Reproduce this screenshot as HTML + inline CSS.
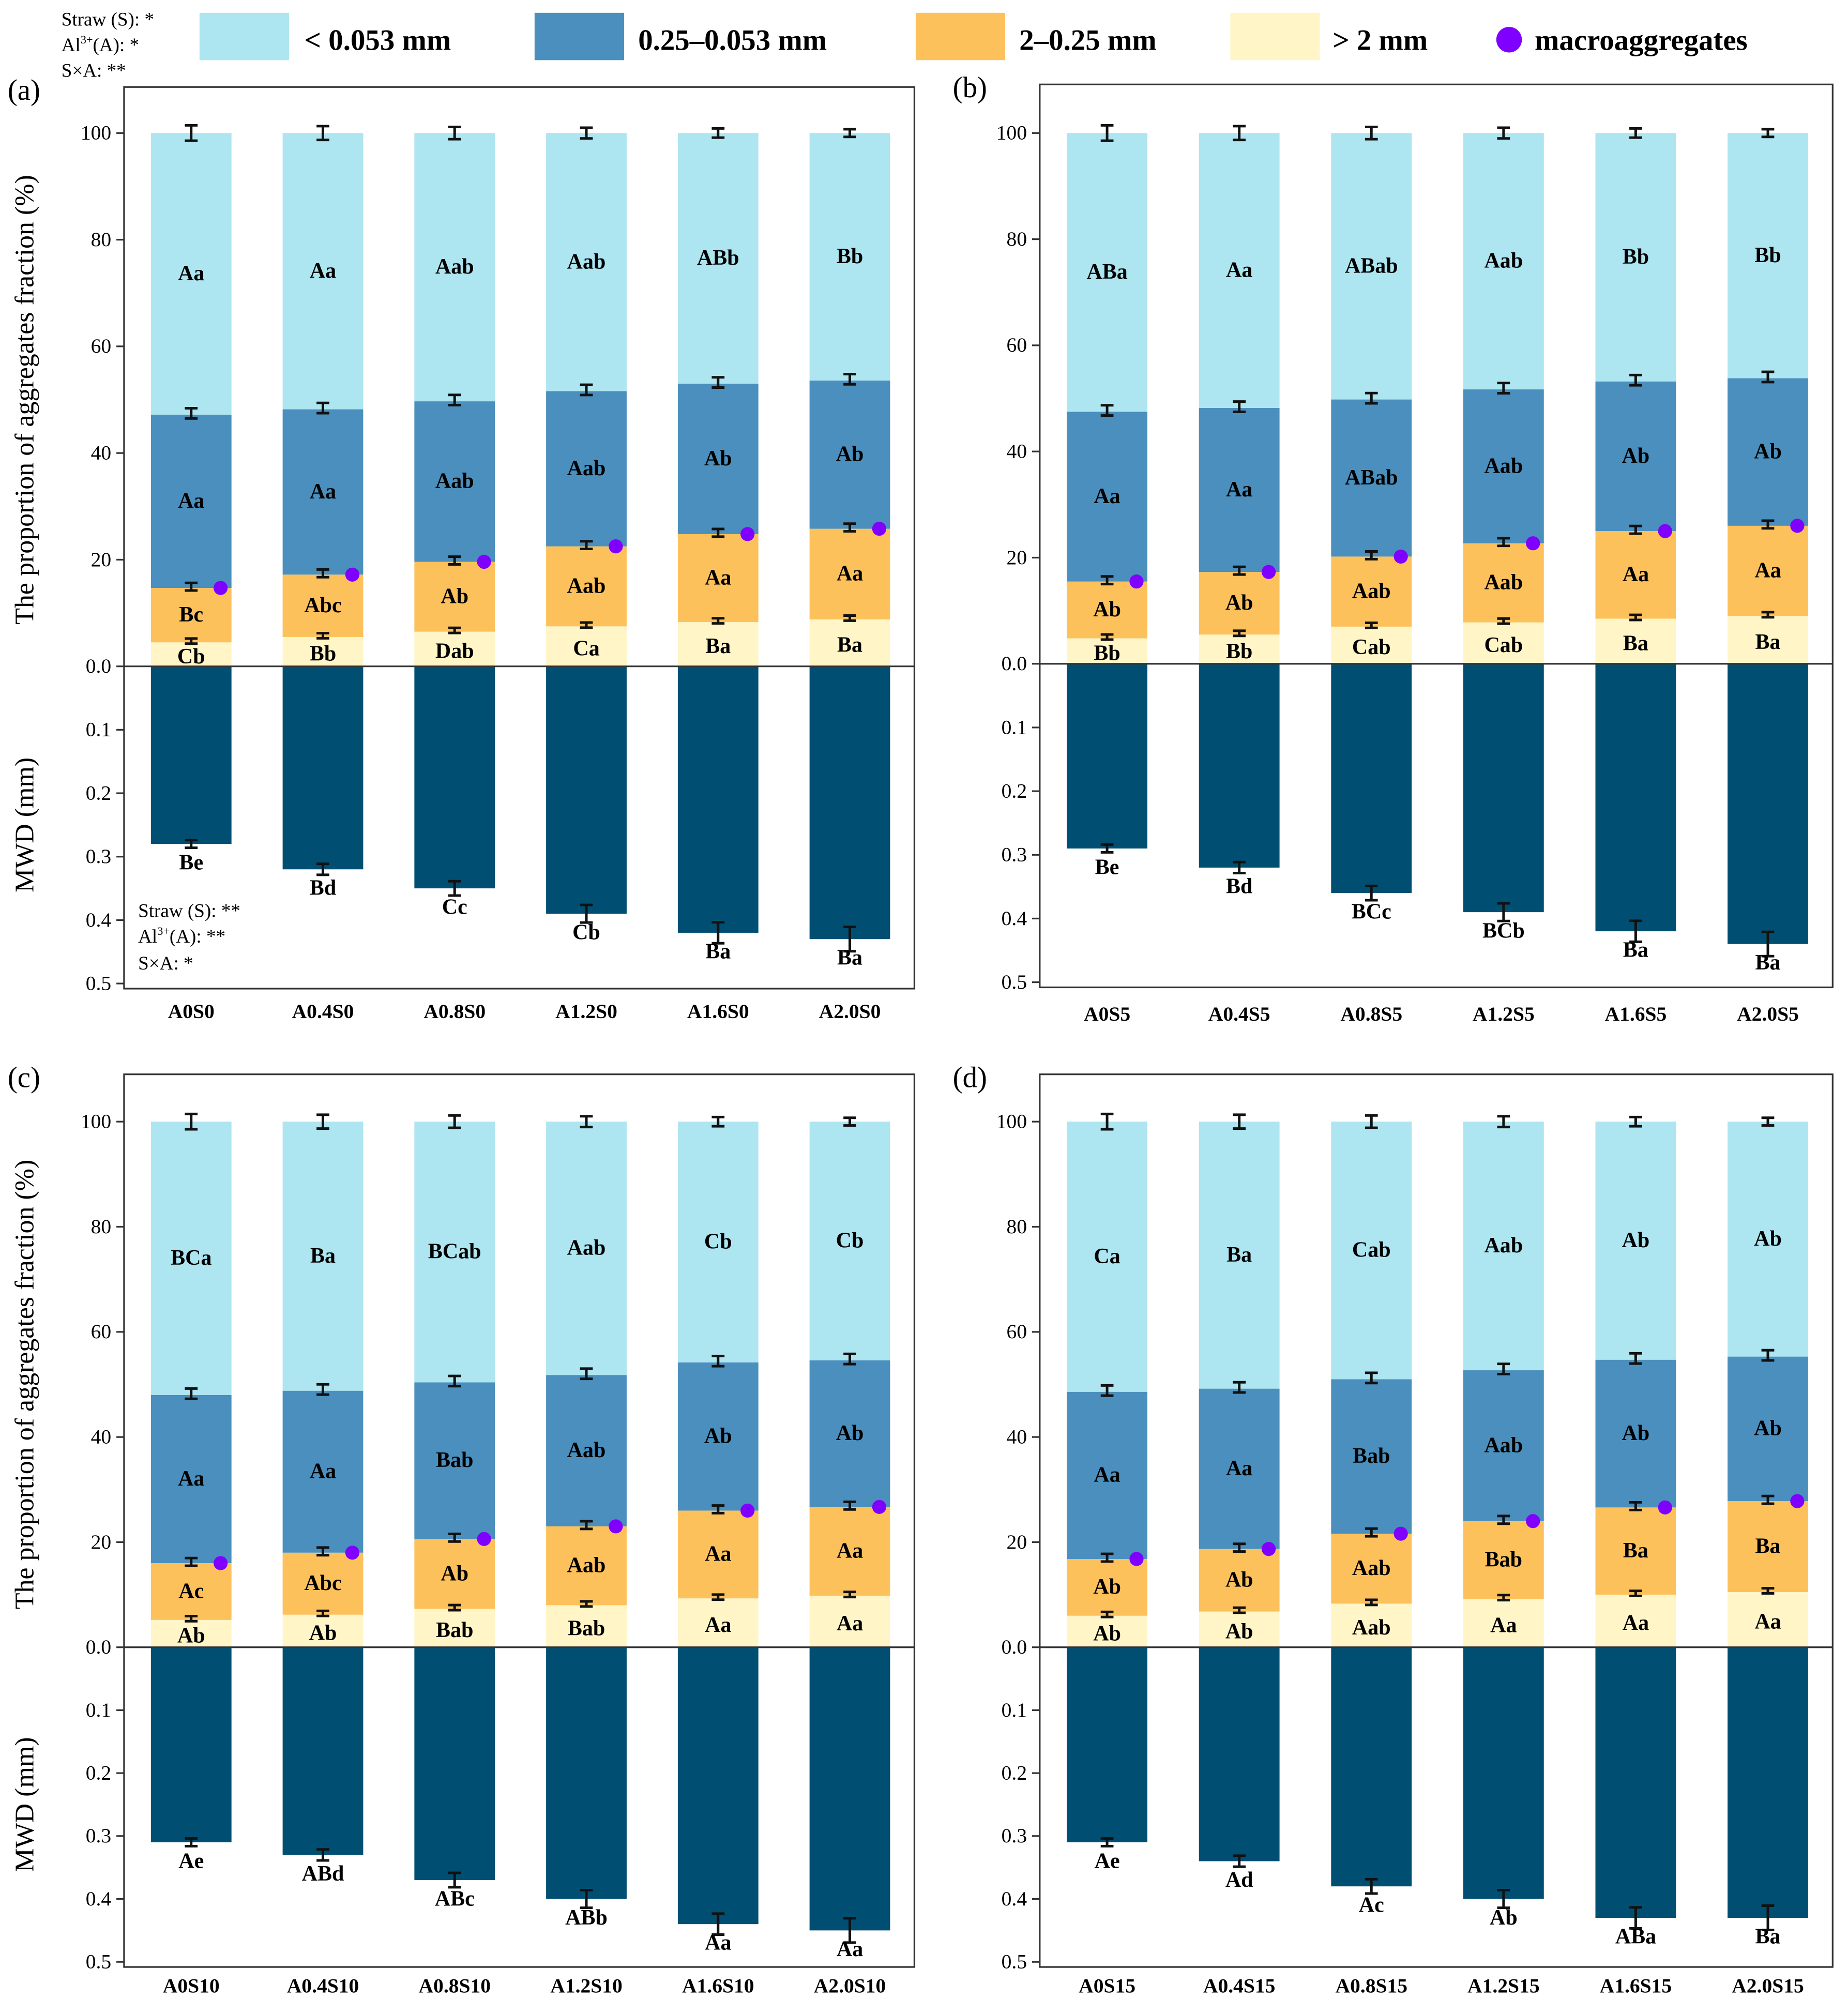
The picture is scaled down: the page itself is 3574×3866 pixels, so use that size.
<!DOCTYPE html>
<html><head><meta charset="utf-8"><style>
html,body{margin:0;padding:0;background:#fff}
svg{display:block}
text{font-family:"Liberation Serif",serif}
</style></head><body>
<svg id="chart" xmlns="http://www.w3.org/2000/svg" width="3574" height="3866" viewBox="0 0 1445 1563">
<rect x="0" y="0" width="1445" height="1563" fill="#fff"/>
<g id="legend">
 <text x="48" y="20" font-size="15">Straw (S): *</text>
 <text x="48" y="40" font-size="15">Al<tspan font-size="9" dy="-6">3+</tspan><tspan dy="6">(A): *</tspan></text>
 <text x="48" y="60" font-size="15">S×A: **</text>
 <rect x="156" y="10" width="70" height="37" fill="#ade5f0"/>
 <text x="238" y="39" font-size="23" font-weight="bold">&lt; 0.053 mm</text>
 <rect x="418" y="10" width="70" height="37" fill="#4a8fbd"/>
 <text x="499" y="39" font-size="23" font-weight="bold">0.25–0.053 mm</text>
 <rect x="716" y="10" width="70" height="37" fill="#fdc15c"/>
 <text x="797" y="39" font-size="23" font-weight="bold">2–0.25 mm</text>
 <rect x="962" y="10" width="70" height="37" fill="#fff5c6"/>
 <text x="1042" y="39" font-size="23" font-weight="bold">&gt; 2 mm</text>
 <circle cx="1180" cy="31" r="10" fill="#8000ff"/>
 <text x="1200" y="39" font-size="23" font-weight="bold">macroaggregates</text>
</g>
</svg>
<script>
// data arrays
const treatA = ["A0S0","A0.4S0","A0.8S0","A1.2S0","A1.6S0","A2.0S0"];
const treatB = ["A0S5","A0.4S5","A0.8S5","A1.2S5","A1.6S5","A2.0S5"];
const treatC = ["A0S10","A0.4S10","A0.8S10","A1.2S10","A1.6S10","A2.0S10"];
const treatD = ["A0S15","A0.4S15","A0.8S15","A1.2S15","A1.6S15","A2.0S15"];
// cumulative tops (%)
const gt2A = [4.5,5.5,6.5,7.5,8.3,8.8];
const macroA = [14.7,17.2,19.6,22.5,24.8,25.8];
const midA = [47.2,48.2,49.7,51.6,53.0,53.6];
const mwdA = [0.28,0.32,0.35,0.39,0.42,0.43];
const gt2B = [4.8,5.5,7.0,7.8,8.5,9.0];
const macroB = [15.5,17.3,20.2,22.7,25.0,26.0];
const midB = [47.5,48.2,49.8,51.7,53.2,53.8];
const mwdB = [0.29,0.32,0.36,0.39,0.42,0.44];
const gt2C = [5.2,6.2,7.3,8.0,9.3,9.8];
const macroC = [16.0,18.0,20.6,23.0,26.0,26.7];
const midC = [48.0,48.8,50.4,51.8,54.2,54.6];
const mwdC = [0.31,0.33,0.37,0.40,0.44,0.45];
const gt2D = [6.0,6.8,8.3,9.2,10.0,10.5];
const macroD = [16.8,18.7,21.6,24.0,26.6,27.8];
const midD = [48.6,49.2,51.0,52.7,54.7,55.3];
const mwdD = [0.31,0.34,0.38,0.40,0.43,0.43];
// letters
const lTopA=["Aa","Aa","Aab","Aab","ABb","Bb"], lMidA=["Aa","Aa","Aab","Aab","Ab","Ab"], lOrA=["Bc","Abc","Ab","Aab","Aa","Aa"], lBotA=["Cb","Bb","Dab","Ca","Ba","Ba"], lMwdA=["Be","Bd","Cc","Cb","Ba","Ba"];
const lTopB=["ABa","Aa","ABab","Aab","Bb","Bb"], lMidB=["Aa","Aa","ABab","Aab","Ab","Ab"], lOrB=["Ab","Ab","Aab","Aab","Aa","Aa"], lBotB=["Bb","Bb","Cab","Cab","Ba","Ba"], lMwdB=["Be","Bd","BCc","BCb","Ba","Ba"];
const lTopC=["BCa","Ba","BCab","Aab","Cb","Cb"], lMidC=["Aa","Aa","Bab","Aab","Ab","Ab"], lOrC=["Ac","Abc","Ab","Aab","Aa","Aa"], lBotC=["Ab","Ab","Bab","Bab","Aa","Aa"], lMwdC=["Ae","ABd","ABc","ABb","Aa","Aa"];
const lTopD=["Ca","Ba","Cab","Aab","Ab","Ab"], lMidD=["Aa","Aa","Bab","Aab","Ab","Ab"], lOrD=["Ab","Ab","Aab","Bab","Ba","Ba"], lBotD=["Ab","Ab","Aab","Aa","Aa","Aa"], lMwdD=["Ae","Ad","Ac","Ab","ABa","Ba"];
const pctTicks=[0,20,40,60,80,100];
const pctTickLabels=["0.0","20","40","60","80","100"];
const mwdTicks=[0.1,0.2,0.3,0.4,0.5];
const mwdTickLabels=["0.1","0.2","0.3","0.4","0.5"];

const NS="http://www.w3.org/2000/svg";
const svg=document.getElementById('chart');
function mk(tag,attrs,parent,txt){const e=document.createElementNS(NS,tag);for(const k in attrs)e.setAttribute(k,attrs[k]);if(txt!==undefined)e.textContent=txt;(parent||svg).appendChild(e);return e;}

const panels=[
 {id:"a",lx:6,x0:97,x1:715,top:68,y100:104,y0:521,y05:769,xl:790,t:treatA,g:gt2A,m:macroA,b:midA,w:mwdA,lt:lTopA,lm:lMidA,lo:lOrA,lb:lBotA,lw:lMwdA,ylab:true,stats:true},
 {id:"b",lx:745,x0:813,x1:1433,top:66,y100:104,y0:519,y05:768,xl:792,t:treatB,g:gt2B,m:macroB,b:midB,w:mwdB,lt:lTopB,lm:lMidB,lo:lOrB,lb:lBotB,lw:lMwdB},
 {id:"c",lx:6,x0:97,x1:715,top:840,y100:877,y0:1288,y05:1534,xl:1552,t:treatC,g:gt2C,m:macroC,b:midC,w:mwdC,lt:lTopC,lm:lMidC,lo:lOrC,lb:lBotC,lw:lMwdC,ylab:true},
 {id:"d",lx:745,x0:813,x1:1433,top:840,y100:877,y0:1288,y05:1534,xl:1552,t:treatD,g:gt2D,m:macroD,b:midD,w:mwdD,lt:lTopD,lm:lMidD,lo:lOrD,lb:lBotD,lw:lMwdD}
];
const C={lt:"#ade5f0",mid:"#4a8fbd",or:"#fdc15c",cr:"#fff5c6",dk:"#004f73"};

function errbar(g,x,yc,h){
 const e=mk('path',{d:`M${x-5},${yc-h}H${x+5}M${x},${yc-h}V${yc+h}M${x-5},${yc+h}H${x+5}`,stroke:"#111","stroke-width":2,fill:"none"},g);
 
 
}
function label(g,x,y,s,name){
 const t=mk('text',{x:x,y:y,"font-size":17,"font-weight":"bold","text-anchor":"middle"},g,s);
 
 
}

panels.forEach(p=>{
 const g=mk('g',{});
 
 
 const yP=v=>p.y0-(p.y0-p.y100)*v/100;
 const yM=v=>p.y0+(p.y05-p.y0)*v/0.5;
 const bottom=p.y05+4;
 const step=(p.x1-p.x0)/6;
 const cx=i=>p.x0+step*(i+0.5)+1;
 const bw=63;
 const pl=mk('text',{x:p.lx,y:p.top+10,"font-size":23},g,"("+p.id+")");
 
 
 p.t.forEach((name,i)=>{
  const x=cx(i)-bw/2;
  const segs=[[0,p.g[i],C.cr,'gt2'],[p.g[i],p.m[i],C.or,'2-025'],[p.m[i],p.b[i],C.mid,'025-0053'],[p.b[i],100,C.lt,'lt0053']];
  segs.forEach(s=>{
   const r=mk('rect',{x:x,y:yP(s[1]),width:bw,height:yP(s[0])-yP(s[1]),fill:s[2]},g);
   
   
  });
  const r=mk('rect',{x:x,y:p.y0,width:bw,height:yM(p.w[i])-p.y0,fill:C.dk},g);
  
  
  errbar(g,cx(i),yP(100),6-i*0.6);
  errbar(g,cx(i),yP(p.b[i])-1,4);
  errbar(g,cx(i),yP(p.m[i])-1,3);
  errbar(g,cx(i),yP(p.g[i])-1,2);
  errbar(g,cx(i),yM(p.w[i]),3+i*1.3);
  const d=mk('circle',{cx:cx(i)+23,cy:yP(p.m[i]),r:5.5,fill:"#8000ff"},g);
  
  
  label(g,cx(i),yP((p.b[i]+100)/2)+5,p.lt[i],'letter-lt0053');
  label(g,cx(i),yP((p.m[i]+p.b[i])/2)+5,p.lm[i],'letter-025');
  label(g,cx(i),yP((p.g[i]+p.m[i])/2)+5,p.lo[i],'letter-2');
  label(g,cx(i),yP(p.g[i]/2)+7,p.lb[i],'letter-gt2');
  label(g,cx(i),yM(p.w[i])+20,p.lw[i],'letter-mwd');
  const xl=mk('text',{x:cx(i),y:p.xl+6,"font-size":16,"font-weight":"bold","text-anchor":"middle"},g,name);
  
  
 });
 const f=mk('rect',{x:p.x0,y:p.top,width:p.x1-p.x0,height:bottom-p.top,fill:"none",stroke:"#333","stroke-width":1.3},g);
 
 
 const zl=mk('line',{x1:p.x0,x2:p.x1,y1:p.y0,y2:p.y0,stroke:"#333","stroke-width":1.3},g);
 
 
 pctTicks.forEach((v,k)=>{
  mk('line',{x1:p.x0-6,x2:p.x0,y1:yP(v),y2:yP(v),stroke:"#333","stroke-width":1.3},g);
  const t=mk('text',{x:p.x0-10,y:yP(v)+5,"font-size":16,"text-anchor":"end"},g,pctTickLabels[k]);
  
  
 });
 mwdTicks.forEach((v,k)=>{
  mk('line',{x1:p.x0-6,x2:p.x0,y1:yM(v),y2:yM(v),stroke:"#333","stroke-width":1.3},g);
  const t=mk('text',{x:p.x0-10,y:yM(v)+5,"font-size":16,"text-anchor":"end"},g,mwdTickLabels[k]);
  
  
 });
 if(p.ylab){
  const a=(p.y0+p.y100)/2, b=(p.y0+p.y05)/2;
  const t1=mk('text',{x:26,y:a,"font-size":21,"text-anchor":"middle",transform:`rotate(-90 26 ${a})`},g,"The proportion of aggregates fraction (%)");
  
  
  const t2=mk('text',{x:26,y:b,"font-size":21,"text-anchor":"middle",transform:`rotate(-90 26 ${b})`},g,"MWD (mm)");
  
  
 }
 if(p.stats){
  const s1=mk('text',{x:108,y:717,"font-size":15},g,"Straw (S): **");
  
  
  const s2=mk('text',{x:108,y:737,"font-size":15},g);
  s2.innerHTML='Al<tspan font-size="9" dy="-6">3+</tspan><tspan dy="6">(A): **</tspan>';
  
  
  const s3=mk('text',{x:108,y:758,"font-size":15},g,"S×A: *");
  
  
 }
});
</script>
</body></html>
